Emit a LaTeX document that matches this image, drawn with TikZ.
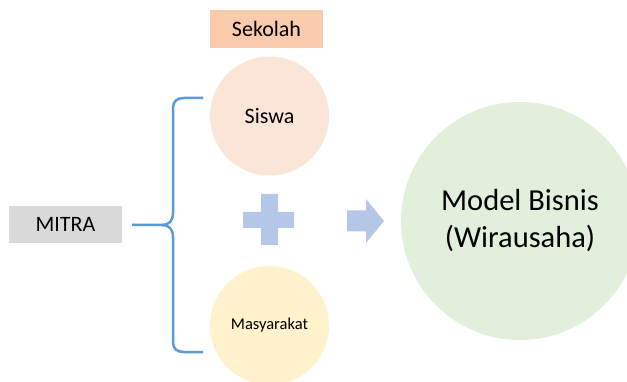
\documentclass[tikz,border=0pt]{standalone}
\usepackage{fontspec}
\setmainfont{Carlito}
\usepackage{xcolor}
\usepackage{tikz}
\usetikzlibrary{positioning}
\definecolor{sekolahfill}{HTML}{F8CBAD}
\definecolor{siswafill}{HTML}{FBE5D6}
\definecolor{masyfill}{HTML}{FFF2CC}
\definecolor{mitrafill}{HTML}{D9D9D9}
\definecolor{modelfill}{HTML}{E2EFDA}
\definecolor{shapeblue}{HTML}{B4C7E7}
\definecolor{braceblue}{HTML}{5B9BD5}

\begin{document}
\begin{tikzpicture}[x=1pt, y=-1pt,
  labelbox/.style={minimum width=113pt, minimum height=37pt, inner sep=0pt, font=\fontsize{22}{26}\selectfont},
  disc/.style={circle, inner sep=0pt, minimum size=119pt}]
\useasboundingbox (0,0) rectangle (627,382);
\node[labelbox, fill=sekolahfill, minimum height=38pt] (sekolah) at (266.5,29) {Sekolah};
\node[disc, fill=siswafill, font=\fontsize{22}{26}\selectfont] (siswa) at (269.5,116) {Siswa};
\node[disc, fill=masyfill, font=\fontsize{16.5}{20}\selectfont] (masyarakat) at (269.5,325.5) {Masyarakat};
\node[labelbox, fill=mitrafill] (mitra) at (65.5,224.5) {MITRA};
\node[circle, fill=modelfill, inner sep=0pt, minimum size=238pt, align=center, font=\fontsize{30.5}{37}\selectfont] (model) at (520,221) {Model Bisnis\\(Wirausaha)};
% plus and arrow
\fill[shapeblue] (261,194) -- (278,194) -- (278,212) -- (294,212) -- (294,228) -- (278,228) -- (278,245) -- (261,245) -- (261,228) -- (243,228) -- (243,212) -- (261,212) -- cycle;
\fill[shapeblue] (347,210.5) -- (366,210.5) -- (366,199) -- (384,221) -- (366,243) -- (366,231.5) -- (347,231.5) -- cycle;
% brace
\draw[braceblue, line width=2.5pt, line join=round] (203,98) -- (184,98) .. controls (177,98) and (173,101) .. (173,108) -- (173,213) .. controls (173,221) and (169,225) .. (162,225) -- (132,225);
\draw[braceblue, line width=2.5pt, line join=round] (162,225) .. controls (169,225) and (173,229) .. (173,237) -- (173,342) .. controls (173,349) and (177,352) .. (184,352) -- (203,352);
\end{tikzpicture}
\end{document}
